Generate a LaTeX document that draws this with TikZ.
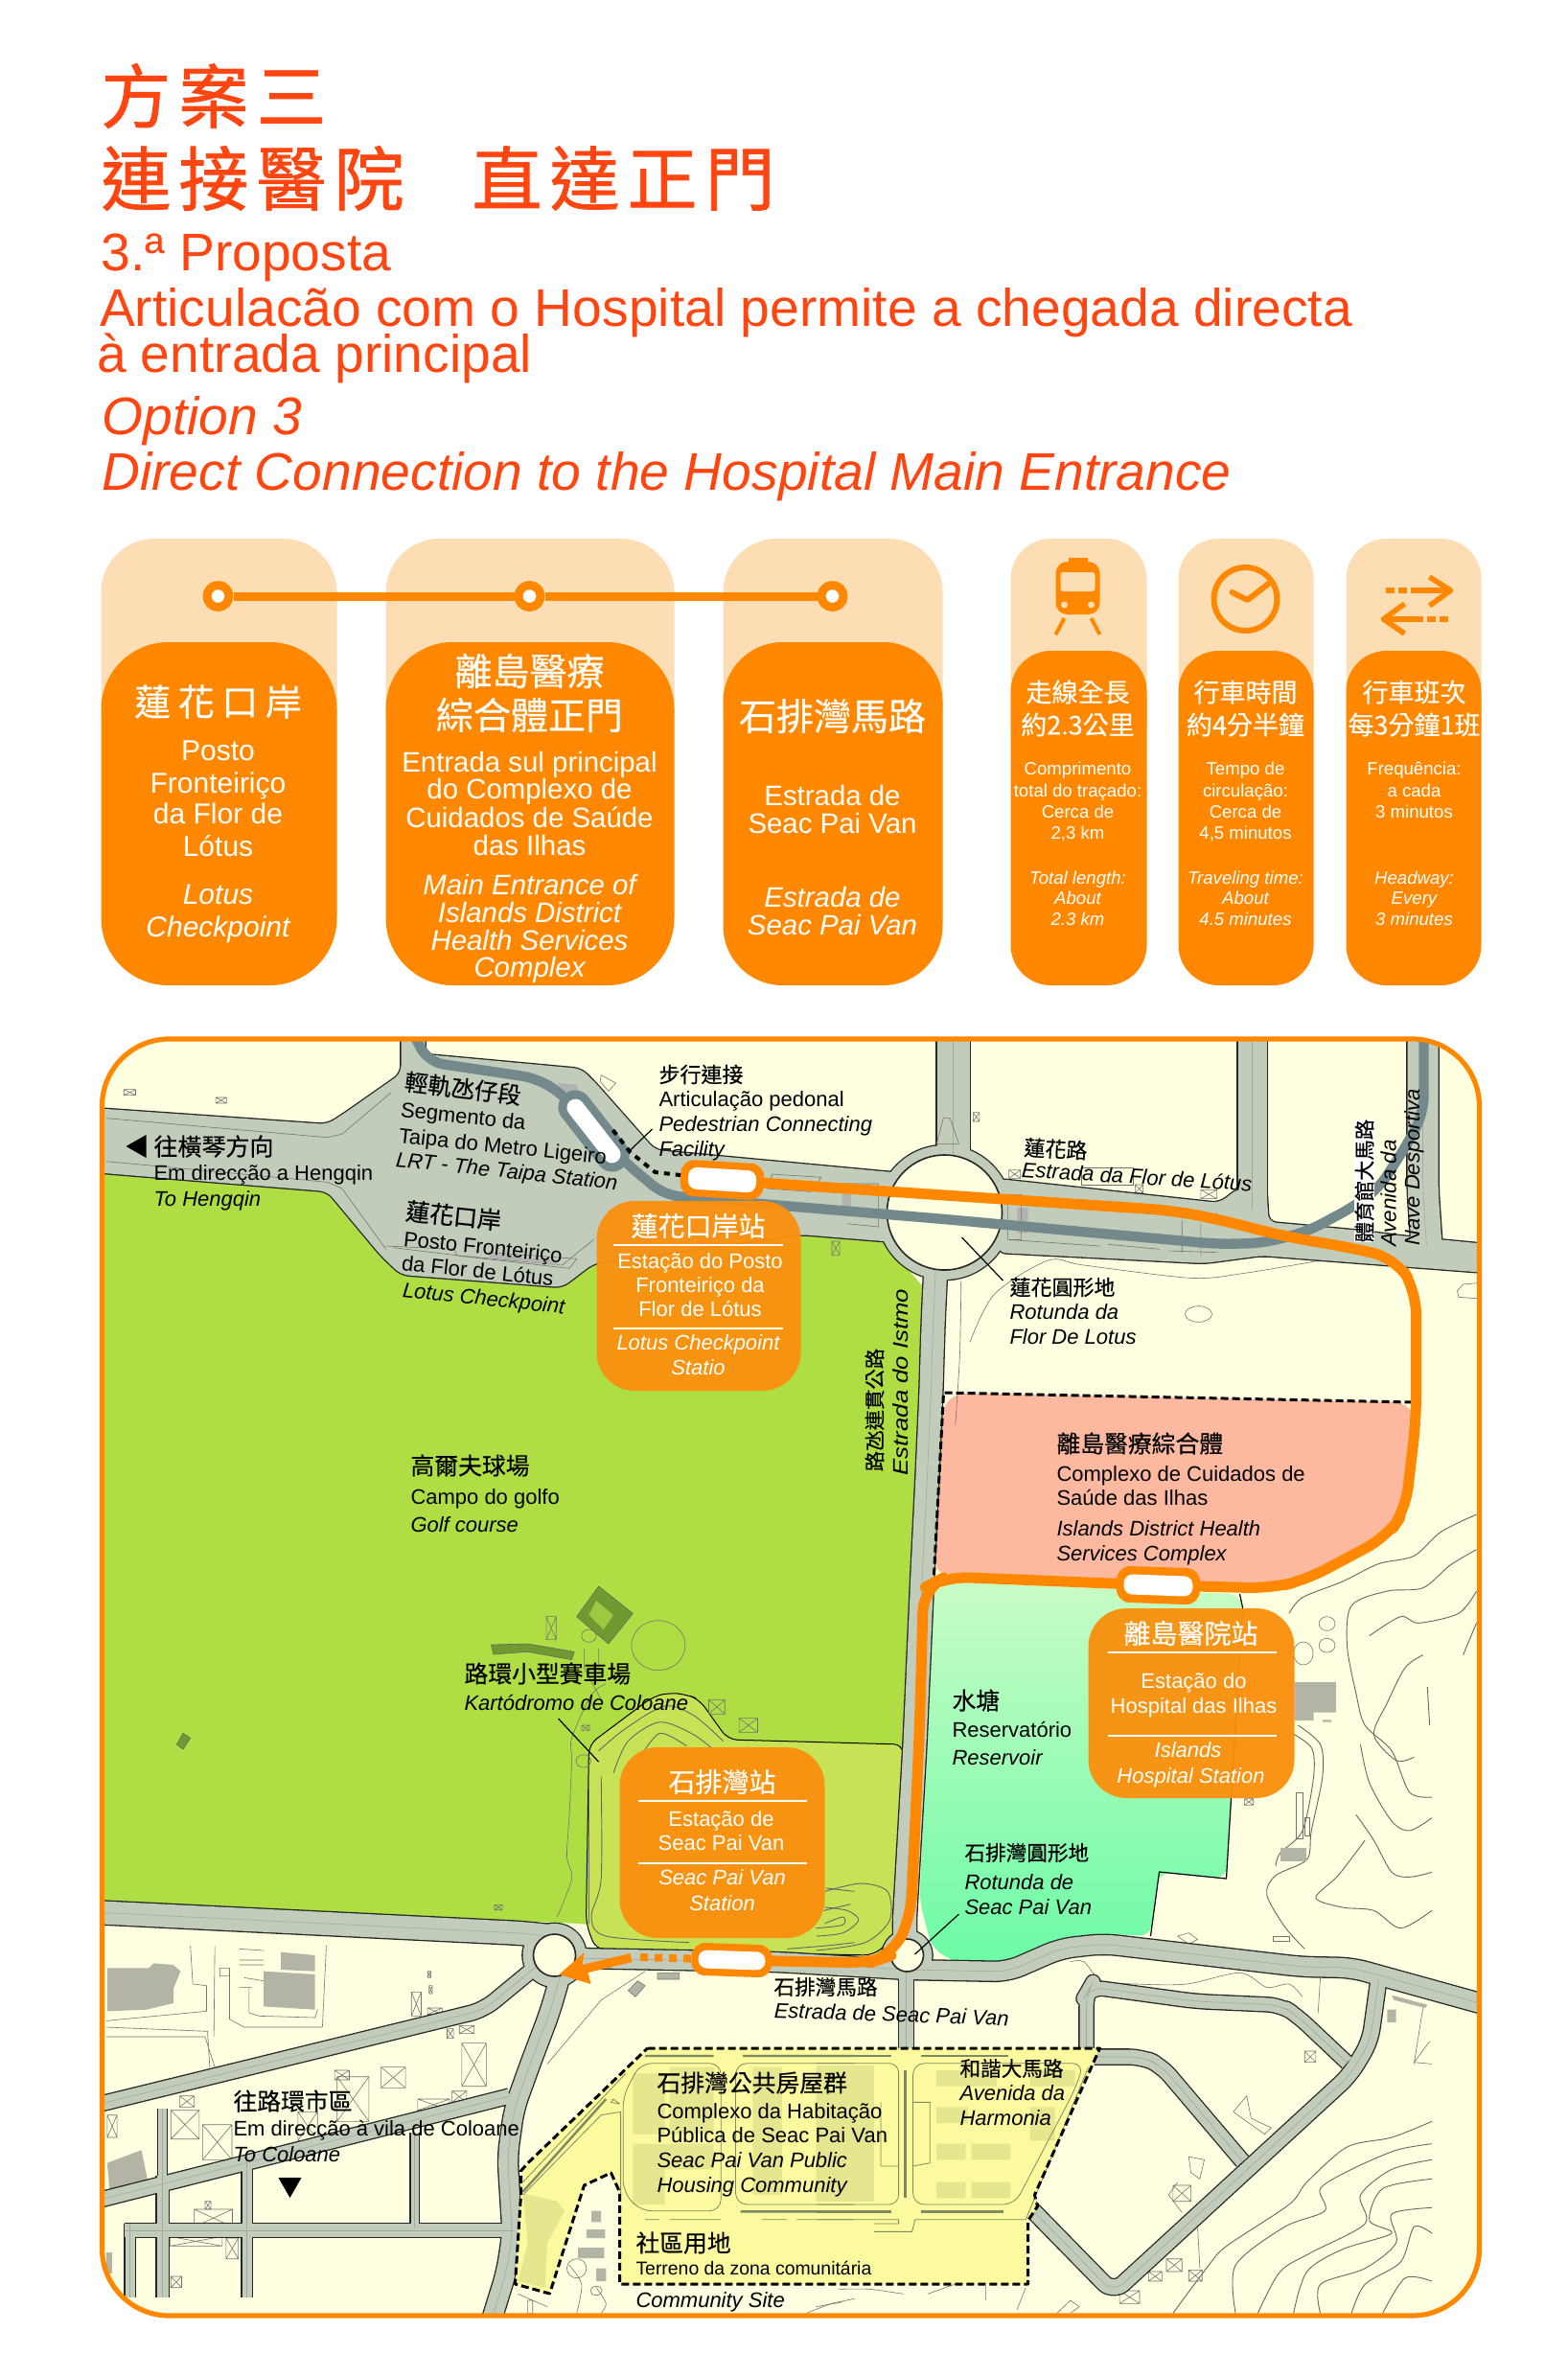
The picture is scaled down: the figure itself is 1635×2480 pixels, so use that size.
\documentclass[tikz,border=0pt]{standalone}
\usepackage{fontspec}
\setmainfont{Liberation Sans}
\newfontfamily\cjk[FakeBold=0.35]{Noto Sans CJK TC}
\newfontfamily\cjkt[FakeBold=1.1,LetterSpace=11]{Noto Sans CJK TC}
\definecolor{redt}{HTML}{FF4510}
\definecolor{org}{HTML}{FF8800}
\definecolor{peach}{HTML}{FCDDB4}
\definecolor{boxo}{HTML}{F9900F}
\definecolor{cream}{HTML}{FEFEE0}
\definecolor{golf}{HTML}{AEDD44}
\definecolor{kart}{HTML}{C7E254}
\definecolor{roadg}{HTML}{C2CCBA}
\definecolor{viad}{HTML}{74898C}
\definecolor{hosp}{HTML}{FDB9A0}
\definecolor{house}{HTML}{FBFA9E}
\definecolor{resa}{HTML}{C8FCC4}
\definecolor{resb}{HTML}{6CFBA6}
\definecolor{hatch}{HTML}{B4B4A6}
\definecolor{hatchy}{HTML}{E4E690}
\definecolor{hline}{HTML}{7E8A60}
\definecolor{oliv}{HTML}{6F9A32}
\newcounter{nn}
\tikzset{
 txt/.style={anchor=base west,inner sep=0pt,outer sep=0pt,align=left},
 z3/.style={shift={(90,1080)},x=0.2551pt,y=-0.16667pt},
 z4/.style={shift={(850,1080)},x=0.23277pt,y=-0.16667pt},
 z5/.style={shift={(90,1560)},x=0.2551pt,y=-0.16667pt},
 z6/.style={shift={(850,1560)},x=0.23277pt,y=-0.16667pt},
 z7/.style={shift={(90,2030)},x=0.2551pt,y=-0.16667pt},
 z8/.style={shift={(850,2030)},x=0.23277pt,y=-0.16667pt},
 thn/.style={draw=black!55,line width=.3pt},
 cont/.style={draw=black!60,line width=.45pt},
 stn/.style={circle,draw=org,fill=white,line width=4.5pt,minimum size=11.5pt,inner sep=0pt},
 route/.style={draw=org,line width=5.5pt,rounded corners=12pt},
 via/.style={draw=viad,line width=5.2pt,rounded corners=8pt},
 dsh/.style={draw=black,line width=1.5pt,dash pattern=on 4pt off 2pt},
 pillout/.style={fill=org,rounded corners=7pt,inner sep=0pt},
 pillin/.style={fill=white,rounded corners=4.5pt,inner sep=0pt},
 lead/.style={draw=black,line width=.6pt},
 whl/.style={draw=white,line width=.6pt},
 sbox/.style={fill=boxo,fill opacity=.96,rounded corners=20pt},
}
% text helpers: [opts]{x}{y}{pt}{text}
\newcommand\tx[5][]{\stepcounter{nn}\node[txt,#1] (t\arabic{nn}) at (#2,#3) {\fontsize{#4}{#4}\selectfont #5};}
\newcommand\ct[5][]{\stepcounter{nn}\node[inner sep=0pt,outer sep=0pt,anchor=west,#1] (t\arabic{nn}) at (#2,#3) {\fontsize{#4}{#4}\selectfont\cjk #5};}
\newcommand\ttl[4]{\stepcounter{nn}\node[inner sep=0pt,outer sep=0pt,anchor=west,text=redt] (t\arabic{nn}) at (#1,#2) {\fontsize{#3}{#3}\selectfont\cjkt #4};}
\newcommand\wt[4]{\tx[anchor=base,text=white]{#1}{#2}{#3}{#4}}
\newcommand\wi[4]{\tx[anchor=base,text=white]{#1}{#2}{#3}{\itshape #4}}
\newcommand\wc[4]{\ct[anchor=center,text=white]{#1}{#2}{#3}{#4}}
\newcommand\xb[4]{\draw[thn] (#1,#2) rectangle (#3,#4) (#1,#2)--(#3,#4) (#1,#4)--(#3,#2);}
\newcommand\roadnet{%
 \rff{(95,1156)--(340,1173)--(360,1160)--(417,1120)--(417,1070)--(442,1070)--(442,1100)--(605,1115)--(620,1130)--(682,1200)--(929,1223)--(985,1225)--(985,1300)--(920,1295)--(834,1288)--(618,1318)--(585,1343)--(417,1330)--(396,1310)--(340,1243)--(95,1223)--cycle}%
 \rff{(1040,1230)--(1271,1255)--(1290,1240)--(1320,1240)--(1322,1275)--(1409,1283)--(1467,1290)--(1550,1298)--(1550,1328)--(1315,1310)--(1255,1318)--(1040,1307)--cycle}%
 \rff{(984,1265) circle[radius=70]}%
 \rdd{34}{(993,1075)--(993,1215)}%
 \rdd{30}{(1305,1075)--(1305,1262)}%
 \rdd{32}{(1483,1075)--(1483,1240)--(1487,1300)}%
 \rdd{24}{(975,1320) .. controls (972,1380) .. (970,1450) .. controls (966,1540) .. (961,1640) -- (953,1820) -- (942,2010) -- (944,2040)}%
 \rdd{24}{(95,1995)--(544,2017)--(590,2022)}%
 \rff{(577,2040) circle[radius=33]}%
 \rdd{20}{(600,2043)--(810,2047)--(945,2055)}%
 \rff{(945,2040) circle[radius=26]}%
 \rdd{20}{(945,2055)--(1050,2057)--(1105,2033)--(1150,2028)--(1357,2052)--(1409,2053)--(1550,2092)}%
 \rdd{15}{(944,2055)--(944,2145)}%
 \rdd{16}{(1437,2065)--(1428,2130)--(1407,2165)--(1160,2392)--(1070,2300)}%
 \rdd{15}{(1140,2146)--(1190,2146)--(1210,2155)--(1295,2255)}%
 \rdd{14}{(1404,2152)--(1352,2103)--(1335,2092)--(1246,2088)--(1136,2073)--(1132,2080)--(1132,2145)}%
 \rdd{20}{(583,2062)--(572,2100)--(553,2150)--(535,2200)--(528,2250)--(533,2330)--(527,2370)--(510,2425)}%
 \rdd{15}{(95,2197)--(503,2097)--(560,2050)}%
 \rdd{15}{(95,2297)--(530,2187)}%
 \rdd{12}{(168,2270)--(168,2397)}%
 \rdd{10}{(256,2250)--(256,2397)}%
 \rdd{10}{(134,2320)--(134,2397)}%
 \rdd{14}{(128,2327)--(535,2327)}%
 \rdd{8}{(431,2225)--(431,2325)}%
 \rdd{9}{(168,2200)--(168,2280)}%
}
\begin{document}
\begin{tikzpicture}[x=0.5pt,y=-0.5pt,line join=round]
\useasboundingbox (-1.5,0) rectangle (1633.5,2480);
\fill[white] (-1.5,0) rectangle (1633.5,2480);
% ---------- title
\ttl{104}{100}{36.5}{方案三}
\ttl{104}{186}{36.5}{連接醫院}
\ttl{491}{186}{36.5}{直達正門}
\tx[text=redt]{104}{282}{27.6}{3.ª Proposta}
\tx[text=redt]{102.5}{340}{27.6}{Articulacão com o Hospital permite a chegada directa}
\tx[text=redt]{99.5}{388}{27.6}{à entrada principal}
\tx[text=redt]{105}{453}{27.6}{\itshape Option 3}
\tx[text=redt]{105}{511}{27.6}{\itshape Direct Connection to the Hospital Main Entrance}
% ---------- panels
\fill[peach,rounded corners=28pt] (104,562) rectangle (350,800);
\fill[peach,rounded corners=28pt] (401,562) rectangle (702,800);
\fill[peach,rounded corners=28pt] (753,562) rectangle (982,800);
\fill[peach,rounded corners=21pt] (1053,562) rectangle (1195,800);
\fill[peach,rounded corners=21pt] (1228,562) rectangle (1369,800);
\fill[peach,rounded corners=21pt] (1403,562) rectangle (1544,800);
\fill[org,rounded corners=35pt] (104,670) rectangle (350,1028);
\fill[org,rounded corners=35pt] (401,670) rectangle (702,1028);
\fill[org,rounded corners=31pt] (753,670) rectangle (982,1028);
\fill[org,rounded corners=21pt] (1053,679) rectangle (1195,1028);
\fill[org,rounded corners=21pt] (1228,679) rectangle (1369,1028);
\fill[org,rounded corners=21pt] (1403,679) rectangle (1544,1028);
\node[stn] (s1) at (226,622) {};
\node[stn] (s2) at (551,622) {};
\node[stn] (s3) at (867,622) {};
\draw[org,line width=4.5pt] (s1)--(s2)--(s3);
% train icon
\fill[org,rounded corners=6pt] (1100,586) rectangle (1146,641);
\fill[org] (1113,582) rectangle (1133,590);
\fill[peach,rounded corners=1.5pt] (1105,597) rectangle (1141,617);
\fill[peach] (1109,631) circle[radius=3.5] (1137,631) circle[radius=3.5];
\draw[org,line width=2pt] (1109,645)--(1100,662) (1137,645)--(1146,662);
% clock icon
\coordinate (ck) at (1298,625);
\draw[org,line width=3pt] (ck) circle[radius=33];
\draw[org,line width=3pt,line cap=round] (1284,618)--(1300,626)--(1322,609);
% arrows icon
\draw[org,line width=2.6pt] (1444,616) -- ++(9,0) (1457,616) -- ++(9,0) (1470,616) -- (1511,616);
\draw[org,line width=2.8pt] (1490,602)--(1512,616)--(1490,632);
\draw[org,line width=2.6pt] (1509,646) -- ++(-9,0) (1496,646) -- ++(-9,0) (1483,646) -- (1443,646);
\draw[org,line width=2.8pt] (1464,630)--(1442,646)--(1464,661);
% panel 1
\ct[anchor=center,text=white]{226}{732}{19}{\addfontfeature{LetterSpace=20}蓮花口岸}
\wt{226}{793}{15}{Posto}\wt{226}{827}{15}{Fronteiriço}\wt{226}{859}{15}{da Flor de}\wt{226}{893}{15}{Lótus}
\wi{226}{943}{15}{Lotus}\wi{226}{977}{15}{Checkpoint}
% panel 2
\wc{551}{700}{19.5}{離島醫療}\wc{551}{746}{19.5}{綜合體正門}
\wt{551}{805}{14.7}{Entrada sul principal}\wt{551}{833}{14.7}{do Complexo de}\wt{551}{863}{14.7}{Cuidados de Saúde}\wt{551}{892}{14.7}{das Ilhas}
\wi{551}{933}{14.7}{Main Entrance of}\wi{551}{962}{14.7}{Islands District}\wi{551}{991}{14.7}{Health Services}\wi{551}{1019}{14.7}{Complex}
% panel 3
\wc{867}{747}{19.5}{石排灣馬路}
\wt{867}{840}{14.7}{Estrada de}\wt{867}{869}{14.7}{Seac Pai Van}
\wi{867}{946}{14.7}{Estrada de}\wi{867}{975}{14.7}{Seac Pai Van}
% panel 4
\wc{1123}{722}{13.5}{走線全長}\wc{1123}{756}{13.5}{約2.3公里}
\wt{1123}{808}{9.3}{Comprimento}\wt{1123}{831}{9.3}{total do traçado:}\wt{1123}{853}{9.3}{Cerca de}\wt{1123}{875}{9.3}{2,3 km}
\wi{1123}{922}{9.3}{Total length:}\wi{1123}{943}{9.3}{About}\wi{1123}{965}{9.3}{2.3 km}
% panel 5
\wc{1298}{722}{13.5}{行車時間}\wc{1298}{756}{13.5}{約4分半鐘}
\wt{1298}{808}{9.3}{Tempo de}\wt{1298}{831}{9.3}{circulação:}\wt{1298}{853}{9.3}{Cerca de}\wt{1298}{875}{9.3}{4,5 minutos}
\wi{1298}{922}{9.3}{Traveling time:}\wi{1298}{943}{9.3}{About}\wi{1298}{965}{9.3}{4.5 minutes}
% panel 6
\wc{1474}{722}{13.5}{行車班次}\wc{1474}{756}{13.5}{每3分鐘1班}
\wt{1474}{808}{9.3}{Frequência:}\wt{1474}{831}{9.3}{a cada}\wt{1474}{853}{9.3}{3 minutos}
\wi{1474}{922}{9.3}{Headway:}\wi{1474}{943}{9.3}{Every}\wi{1474}{965}{9.3}{3 minutes}
% ---------- map
\begin{scope}
\clip[rounded corners=35pt] (105,1084) rectangle (1542,2416);
\fill[cream] (105,1084) rectangle (1542,2416);
% golf
\fill[golf] (95,1223)--(340,1243)--(396,1310)--(417,1330)--(585,1343)--(618,1318)--(834,1288)--(920,1295)--(962,1343)--(941,1820)--(925,2040)--(603,2007)--(95,1983)--cycle;
% kart
\filldraw[fill=kart,draw=black,line width=.5pt,rounded corners=5pt] (610,2007)--(613,1820)--(680,1770)--(697,1766)--(715,1768)--(728,1773)--(758,1815)--(941,1820)--(936,2017)--(910,2040)--(620,2034)--cycle;
% reservoir
\shade[top color=resa,bottom color=resb,rounded corners=6pt] (972,1650)--(1292,1663)--(1295,1677)--(1278,1960)--(1208,1953)--(1199,2020)--(1157,2018)--(1101,2027)--(1055,2052)--(1004,2052)--(971,2033)--(958,1983)--cycle;
\draw[black,line width=.6pt] (1292,1663)--(1295,1677)--(1278,1960)--(1208,1953)--(1199,2020);
% hospital
\fill[hosp,rounded corners=12pt] (983,1453)--(1476,1463)--(1476,1480)--(1465,1575)--(1446,1603)--(1362,1648)--(1325,1657)--(1207,1654)--(985,1645)--(973,1650)--cycle;
% hill contours
\begin{scope}[z6]
\draw[cont] plot[smooth] coordinates {(1480,60)(1400,115)(1340,190)(1260,215)(1180,270)(1090,320)(1060,370)};
\draw[cont] plot[smooth] coordinates {(1480,170)(1420,220)(1360,290)(1280,300)(1200,345)(1190,470)(1210,620)(1230,720)(1290,800)(1330,930)(1380,945)};
\draw[cont] plot[smooth] coordinates {(1480,300)(1440,370)(1350,400)(1310,380)(1240,440)};
\draw[cont] plot[smooth] coordinates {(1480,400)(1450,500)};
\draw[cont] plot[smooth] coordinates {(1360,500)(1320,540)(1280,650)(1250,750)(1300,830)(1340,820)};
\draw[cont] plot[smooth] coordinates {(1380,1010)(1330,1050)(1290,1020)(1240,900)(1220,780)};
\draw[cont] plot[smooth] coordinates {(1380,1180)(1330,1195)(1290,1180)(1250,1080)(1210,1000)};
\draw[cont] plot[smooth] coordinates {(1380,1300)(1310,1355)(1250,1300)(1180,1290)(1120,1260)(1170,1190)(1230,1080)};
\draw[cont] plot[smooth] coordinates {(1370,600)(1375,720)};
\draw[cont] plot[smooth] coordinates {(1080,720)(1130,780)(1135,880)(1110,1050)(1100,1140)(1030,1190)(1010,1250)(1050,1350)(1095,1420)};
\draw[cont] plot[smooth] coordinates {(1060,740)(1110,790)(1115,880)(1090,1050)(1040,1120)(1030,1160)};
\draw[thn] (1145,402) circle[x radius=18,y radius=22] (1145,470) circle[x radius=18,y radius=22] (1092,495) circle[x radius=22,y radius=36];
\fill[hatch] (1072,585) rectangle (1165,680) (1072,680) rectangle (1115,705) (1135,703) rectangle (1155,710);
\fill[hatch] (1040,1105) rectangle (1098,1145);
\draw[thn] (1075,930) rectangle (1090,1075) (1095,1010) rectangle (1105,1065);
\xb{960}{950}{980}{970}
\draw[thn] (810,1380)--(835,1370)--(855,1390)--(835,1405)--cycle;
\draw[thn] (1025,1380) rectangle (1060,1395);
\end{scope}
\begin{scope}[z4]
\draw[thn] plot[smooth] coordinates {(345,960)(400,810)(520,705)(600,720)(840,760)(960,745)(1130,705)};
\draw[thn] plot[smooth] coordinates {(325,770)(322,1000)(312,1220)};
\draw[thn] (857,873) ellipse[x radius=30,y radius=25];
\draw[thn] (1490,775)--(1450,780)--(1437,800)--(1440,820)--(1490,825);
\xb{352}{242}{366}{270}\xb{432}{422}{458}{448}\xb{862}{484}{898}{512}\xb{715}{468}{733}{494}
\draw[thn] (595,415) rectangle (710,470);
\end{scope}
\begin{scope}[z3]
\xb{1522}{645}{1538}{688}
\xb{74}{170}{98}{188}\xb{262}{195}{284}{213}
\draw[thn] (1050,125)--(1080,150)--(1065,175)--(1048,145)--cycle;
\end{scope}
\begin{scope}[z5]
\draw[draw=black!60,line width=.3pt,fill=oliv] (1045,285)--(1115,370)--(1065,465)--(1000,380)--cycle;
\fill[golf!70!oliv] (1040,330)--(1075,375)--(1055,420)--(1025,375)--cycle;
\draw[thn] (1167,470) ellipse[x radius=55,y radius=78];
\xb{938}{380}{958}{452}\xb{1270}{640}{1303}{685}\xb{1332}{698}{1370}{742}\xb{1010}{720}{1026}{736}\xb{832}{1282}{848}{1298}
\draw[draw=black!60,line width=.3pt,fill=oliv] (825,468)--(900,465)--(995,490)--(990,515)--(900,490)--(830,498)--cycle;
\draw[draw=black!60,line width=.3pt,fill=oliv] (195,745)--(210,760)--(195,795)--(182,780)--cycle;
\draw[thn] (1025,440) circle[x radius=15,y radius=20];
\draw[thn] (1015,480)--(1015,540)--(1050,640) (1045,480)--(1045,530);
\draw[thn] plot[smooth] coordinates {(1060,590)(1030,625)(990,760)(990,830)(985,1000)(980,1130)(990,1200)(960,1320)};
\draw[thn] (1014,832) circle[x radius=15,y radius=20];
\draw[thn] (1025,880)--(1025,1340);
% kart track
\draw[cont] plot[smooth] coordinates {(1045,800)(1100,730)(1180,660)(1240,690)(1300,770)};
\draw[cont] plot[smooth] coordinates {(1075,870)(1105,770)(1170,710)(1240,750)(1290,810)};
\draw[cont] plot[smooth] coordinates {(1130,820)(1170,745)(1225,785)};
\draw[cont] plot[smooth] coordinates {(1050,880)(1050,1200)(1030,1320)(1060,1380)(1230,1400)};
\draw[cont] plot[smooth] coordinates {(1430,1420)(1510,1410)(1568,1400)};
\draw[cont] plot[smooth] coordinates {(1510,1230)(1568,1240)};
\draw[cont] plot[smooth] coordinates {(1505,1300)(1560,1280)};
\end{scope}
\begin{scope}[z6]
\draw[cont] plot[smooth] coordinates {(20,1240)(100,1215)(160,1240)(165,1330)(110,1400)(0,1425)};
\draw[cont] plot[smooth] coordinates {(20,1290)(70,1300)(95,1330)(60,1370)(0,1380)};
\draw[cont] plot[smooth] coordinates {(20,1340)(60,1320)(60,1345)(0,1355)};
\end{scope}
% SE hill
\begin{scope}[z8]
\draw[cont] plot[smooth] coordinates {(1380,550)(1290,600)(1190,630)(1100,740)(1060,810)(920,940)(880,1000)(800,1150)};
\draw[cont] plot[smooth] coordinates {(1380,620)(1300,640)(1200,700)(1130,760)(1140,830)(1050,880)(940,1000)(940,1150)};
\draw[cont] plot[smooth] coordinates {(1380,670)(1290,700)(1220,780)(1230,870)(1110,960)(1040,1020)(990,1150)};
\draw[cont] plot[smooth] coordinates {(1380,730)(1270,760)(1240,860)(1290,900)(1180,950)(1100,1020)(1070,1150)};
\draw[cont] plot[smooth] coordinates {(1380,820)(1290,840)(1300,930)(1230,1010)(1130,1060)(1130,1150)};
\draw[cont] plot[smooth] coordinates {(1380,900)(1340,880)(1310,990)(1230,1060)(1200,1150)};
\draw[cont] plot[smooth] coordinates {(1380,1050)(1320,1040)(1270,1150)};
\draw[thn] plot[smooth] coordinates {(570,50)(600,50)(640,110)(720,120)(830,120)(950,85)(1010,130)(1060,120)(1090,160)};
\draw[thn] (1130,100)--(1125,210) (1375,300)--(1340,365)--(1380,370) (1360,195)--(1340,370);
\draw[thn] plot[smooth] coordinates {(50,1075)(120,1075)(195,1090)};
\draw[thn] (380,1065)--(380,1110) (0,1130)--(60,1115) (250,1090)--(310,1060) (470,1070)--(450,1140);
\draw[thn] (540,1150)--(570,1110)--(590,1130)--(570,1150);
\draw[thn] (855,880)--(860,1010);
\xb{680}{1080}{725}{1120}\xb{745}{1020}{775}{1050}\xb{785}{980}{820}{1020}\xb{835}{1015}{865}{1050}
\xb{800}{750}{840}{800}\xb{1095}{330}{1120}{365}
\draw[thn] (935,520)--(965,470)--(975,540)--(1020,570)--(1005,590)--cycle;
\draw[thn] (810,740)--(790,780)--(820,835);
\draw[thn] (835,660)--(870,670)--(860,730)--(840,710)--cycle;
\fill[hatch] (1290,155)--(1370,185)--(1365,195)--(1295,170)--cycle (1280,200) rectangle (1300,240);
\end{scope}
% SW buildings
\begin{scope}[z7]
\fill[hatch] (40,70)--(125,70)--(135,55)--(175,60)--(190,80)--(175,135)--(175,180)--(120,200)--(40,205)--cycle;
\fill[hatch] (360,80)--(465,90)--(465,200)--(360,190)--cycle (395,20)--(465,30)--(465,80)--(395,75)--cycle;
\fill[hatch] (40,680)--(110,640)--(122,730)--(45,770)--cycle;
\fill[hatch] (38,960) rectangle (50,1025);
\draw[thn] (210,0)--(215,120)--(243,125)--(243,205)--(38,235) (38,255)--(245,268)--(250,390) (38,285)--(240,285)--(262,390) (260,0)--(258,285);
\draw[thn] (290,80)--(290,230)--(320,255)--(480,255)--(488,0) (270,70)--(290,70)--(290,95)--(270,95)--cycle;
\draw[thn] (330,130)--(330,210)--(350,220)--(465,225)--(470,200);
\draw[thn] (310,10)--(360,15) (310,45)--(360,45) (310,60)--(360,60) (320,100)--(360,110) (310,130)--(335,130);
\xb{662}{145}{682}{220}\xb{695}{195}{725}{215}\xb{695}{80}{702}{100}\xb{698}{125}{705}{150}
\xb{765}{305}{815}{440}\xb{735}{260}{748}{290}\xb{760}{250}{790}{275}
\xb{600}{380}{650}{445}\xb{505}{390}{535}{420}\xb{510}{410}{575}{550}
\xb{675}{480}{740}{515}\xb{745}{455}{775}{490}
\xb{170}{515}{228}{605}\xb{235}{560}{295}{670}\xb{188}{470}{218}{505}
\xb{218}{825}{296}{880}\xb{240}{800}{252}{825}
\xb{118}{880}{155}{895}\xb{155}{875}{185}{900}
\xb{168}{910}{275}{940}\xb{283}{915}{308}{980}\xb{170}{1035}{192}{1070}
\xb{40}{530}{60}{600}\xb{430}{520}{470}{610}
\draw[thn] (1140,80)--(1050,170)--(940,370);
\draw[thn,fill=hatch] (1105,140)--(1125,110)--(1140,125)--(1120,160)--cycle (1165,85) rectangle (1210,105);
\draw[thn] (880,1090)--(940,1130) (900,1110) rectangle (910,1150) (1000,1010) circle[x radius=20,y radius=30];
\draw[thn] plot[smooth] coordinates {(985,1000)(1010,1060)(1000,1150)};
\draw[thn] plot[smooth] coordinates {(1040,1070)(1060,1120)(1050,1150)};
\draw[thn] (1040,1080) circle[x radius=12,y radius=14];
\fill[hatch] (1030,830) rectangle (1050,865) (1020,888) rectangle (1058,915) (1003,945) rectangle (1056,978) (1040,1010) rectangle (1060,1050);
\draw[thn] (1470,1150)--(1520,1120)--(1568,1105);
\end{scope}
% roads
\def\rff#1{\draw[draw=black!85,line width=1.3pt,rounded corners=4pt] #1;}
\def\rdd#1#2{\draw[draw=black!85,line width=#1*0.5pt+1.3pt,rounded corners=7pt] #2;}
\roadnet
\def\rff#1{\fill[roadg,rounded corners=4pt] #1;}
\def\rdd#1#2{\draw[draw=roadg,line width=#1*0.5pt,rounded corners=7pt] #2;}
\roadnet
\def\rff#1{}
\def\rdd#1#2{\draw[draw=black!35,line width=.3pt,rounded corners=7pt] #2;}
\roadnet
% plaza detail
\begin{scope}[z3]
\draw[thn] (38,260)--(490,320)--(520,310)--(620,180) (38,395)--(490,460)--(520,480)--(610,670);
\draw[thn] (625,665)--(760,690)--(970,720)--(1035,640);
\draw[thn] (610,660)--(750,670)--(755,690)--(985,730)--(1000,700)--(820,680);
\fill[black!30] (820,695)--(960,720)--(960,705)--(825,685)--cycle;
\draw[thn] (1400,435)--(1500,445)--(1480,490)--(1390,480)--cycle;
\fill[black!30] (960,150)--(1000,155)--(1005,185)--(975,175)--cycle;
\end{scope}
\begin{scope}[z4]
\fill[black!30] (450,540) rectangle (475,620) (58,495) rectangle (78,540);
\draw[thn] (430,500) rectangle (460,640) (500,510)--(780,545) (800,545)--(900,560) (430,640)--(635,660) (655,655)--(770,670) (790,675)--(900,680);
\draw[thn] (820,580)--(820,680) (862,590)--(862,690) (60,465)--(140,465)--(140,600)--(70,590);
\draw[thn] (270,340)--(320,340)--(300,260)--(285,260)--cycle;
\end{scope}
% roundabouts
\filldraw[fill=cream,draw=black!85,line width=.8pt] (984,1265) circle[radius=60];
\filldraw[fill=cream,draw=black!85,line width=.8pt] (577,2040) circle[radius=22];
\filldraw[fill=cream,draw=black!85,line width=.8pt] (945,2040) circle[radius=17];
% housing
\coordinate (ha) at (674,2137);
\fill[house,rounded corners=2pt] (ha)--(1146,2137)--(1078,2290)--(1081,2302)--(1071,2317)--(1071,2383)--(645,2383)--(645,2287)--(636,2267)--(608,2280)--(572,2393)--(536,2383)--(542,2290)--(542,2265)--(549,2257)--cycle;
\begin{scope}[z8]
\fill[hatchy] (270,390) rectangle (405,440) (270,505) rectangle (340,555) (270,620) rectangle (335,670) (348,620) rectangle (435,670) (270,740) rectangle (335,790) (348,740) rectangle (435,790) (480,390) rectangle (580,440) (480,505) rectangle (535,610);
\fill[hatchy] (0,375) rectangle (130,800);
\draw[hline,line width=.4pt,rounded corners=5pt] (0,368)--(185,368)--(185,810)--(0,810);
\draw[hline,line width=.4pt,rounded corners=6pt] (217,368)--(600,368)--(580,450)--(445,810)--(217,810)--cycle;
\draw[hline,line width=1.2pt] (0,345)--(168,345) (235,345)--(430,345) (0,832)--(168,832) (235,832)--(420,832) (200,390)--(200,790);
\draw[hline,line width=.4pt] (0,857)--(185,857)--(185,870)--(130,870) (130,895)--(215,895)--(222,857)--(470,857)--(610,380);
\draw[hline,line width=.4pt] (145,490)--(145,690)--(185,690) (217,690)--(255,680)--(255,490)--(217,490);
\end{scope}
\begin{scope}[z7]
\fill[hatchy] (1115,400) rectangle (1180,590) (1115,620) rectangle (1280,700) (1115,700) rectangle (1180,810) (1190,380) rectangle (1280,590) (1360,380) rectangle (1420,780) (1490,380) rectangle (1568,800);
\fill[hatchy] (890,775)--(960,800)--(975,830)--(940,930)--(935,1070)--(880,1050)--(900,930)--cycle;
\draw[hline,line width=.4pt,rounded corners=6pt] (1095,470)--(1130,368)--(1295,368)--(1295,830)--(1130,830)--(1095,770)--cycle;
\draw[hline,line width=.4pt,rounded corners=6pt] (1568,368)--(1325,368)--(1325,810)--(1568,810);
\draw[hline,line width=1.2pt] (1140,345)--(1280,345) (1340,345)--(1568,345) (1335,832)--(1568,832) (890,770)--(1060,480);
\draw[hline,line width=.4pt] (890,740)--(1100,400) (890,780)--(1050,530) (1050,530)--(1090,520)--(1090,780) (1140,857)--(1170,857) (1190,857)--(1295,857) (1378,857)--(1430,857) (1450,857)--(1568,857);
\draw[hline,line width=.4pt] (1070,490)--(1088,495)--(1075,480)--cycle;
\end{scope}
\draw[dsh] (ha)--(1146,2137)--(1078,2290)--(1081,2302)--(1071,2317)--(1071,2383)--(645,2383)--(645,2287)--(636,2267)--(608,2280)--(572,2393)--(536,2383)--(542,2290)--(542,2265)--(549,2257)--cycle;
\draw[dsh] (1472,1463)--(983,1453)--(973,1643);
% LRT viaduct
\coordinate (pV) at (618,1180);
\draw[via] (428,1075)--(445,1108)--(559,1125)--(587,1143)--(651,1213)--(692,1247)--(804,1257)--(984,1272)--(1269,1298)--(1316,1297)--(1362,1285)--(1409,1260)--(1437,1240)--(1469,1190)--(1484,1160)--(1484,1075);
\node[fill=viad,rounded corners=8.5pt,minimum width=49pt,minimum height=17.5pt,inner sep=0pt,rotate=-52] (vOut) at (pV) {};
\node[fill=white,rounded corners=4.5pt,minimum width=40pt,minimum height=9pt,inner sep=0pt,rotate=-52] (vIn) at (pV) {};
% pedestrian link
\coordinate (pL) at (752,1231);
\coordinate (pH) at (1207,1654);
\coordinate (pS) at (762,2045);
\coordinate (pa) at (638,1179);
\coordinate (pb) at (656,1202);
\coordinate (pc) at (682,1223);
\draw[black,line width=2pt,dash pattern=on 3pt off 3pt] (pa)--(pb)--(pc)--(pL);
% orange route
\draw[route] (pL)--(850,1238)--(1222,1263)--(1269,1272)--(1339,1290)--(1409,1302)--(1455,1313)--(1476,1347)--(1476,1480)--(1465,1575)--(1446,1603)--(1362,1648)--(1325,1657)--(pH)--(985,1645)--(962,1657)--(958,1800)--(949,2000)--(929,2040)--(906,2048)--(pS);
\node[pillout,rotate=-3.5,minimum width=43.5pt,minimum height=19pt] (pL1) at (pL) {};
\node[pillin,rotate=-3.5,minimum width=35.5pt,minimum height=11.5pt] (pL2) at (pL) {};
\node[pillout,rotate=-2,minimum width=43.5pt,minimum height=19pt] (pH1) at (pH) {};
\node[pillin,rotate=-2,minimum width=36pt,minimum height=10.5pt] (pH2) at (pH) {};
\node[pillout,rotate=-2,minimum width=42pt,minimum height=17pt] (pS1) at (pS) {};
\node[pillin,rotate=-2,minimum width=35pt,minimum height=9.5pt] (pS2) at (pS) {};
% direction arrow
\coordinate (aE) at (656,2042);
\coordinate (aT) at (582,2060);
\draw[org,line width=4pt,dash pattern=on 4pt off 3.5pt] (pS1.west)--(664,2042);
\fill[org] (aE)++(2,5)--(656,2038)--(606,2050)--(608,2037)--(aT)--(615,2070)--(612,2058)--cycle;
\end{scope}
% frame
\draw[org,line width=2.6pt,rounded corners=35pt] (105,1084) rectangle (1542,2416);
% ---------- leaders
\coordinate (l1a) at (679,1178);\coordinate (l1b) at (654,1202);\draw[lead] (l1a)--(l1b);
\coordinate (l2a) at (1002,1291);\coordinate (l2b) at (1045,1336);\draw[lead] (l2a)--(l2b);
\coordinate (l3a) at (999,1997);\coordinate (l3b) at (953,2039);\draw[lead] (l3a)--(l3b);
\coordinate (l4a) at (581,1793);\coordinate (l4b) at (623,1838);\draw[lead] (l4a)--(l4b);
% ---------- map labels
\coordinate (ta) at (130,1196);\coordinate (tb) at (151,1184);\coordinate (tc) at (151,1208);
\fill[black] (ta)--(tb)--(tc)--cycle;
\ct{159}{1196}{12.5}{往橫琴方向}
\tx{159}{1231}{11}{Em direcção a Hengqin}
\tx{159}{1258}{11}{\itshape To Hengqin}
\ct[rotate=-7]{421}{1128}{12.2}{輕軌氹仔段}
\tx[rotate=-6]{416}{1165}{11}{Segmento da}
\tx[rotate=-6]{414}{1192}{11}{Taipa do Metro Ligeiro}
\tx[rotate=-6]{411}{1217}{11}{\itshape LRT - The Taipa Station}
\ct[rotate=-6]{422}{1263}{12.5}{蓮花口岸}
\tx[rotate=-6]{419}{1300}{11}{Posto Fronteiriço}
\tx[rotate=-6]{417}{1325}{11}{da Flor de Lótus}
\tx[rotate=-6]{418}{1353}{11}{\itshape Lotus Checkpoint}
\ct{686}{1121}{11}{步行連接}
\tx{686}{1154}{11}{Articulação pedonal}
\tx{686}{1180}{11}{\itshape Pedestrian Connecting}
\tx{686}{1206}{11}{\itshape Facility}
\ct[rotate=-3]{1067}{1197}{11}{蓮花路}
\tx[rotate=-3.5]{1064}{1228}{11}{\itshape Estrada da Flor de Lótus}
\ct{1052}{1343}{11}{蓮花圓形地}
\tx{1052}{1376}{11}{\itshape Rotunda da}
\tx{1052}{1402}{11}{\itshape Flor De Lotus}
\ct[anchor=center,rotate=90]{911}{1471}{10.7}{路氹連貫公路}
\tx[anchor=center,rotate=90]{938}{1442}{11}{\addfontfeature{FakeStretch=1.17}\itshape Estrada do Istmo}
\ct[anchor=center,rotate=90,fill=white]{1422}{1232}{10.7}{體育館大馬路}
\tx[anchor=center,rotate=90]{1447}{1245}{11.2}{\itshape Avenida da}
\tx[anchor=center,rotate=90]{1474}{1218}{11}{\itshape Nave Desportiva}
\ct{1101}{1506}{12.4}{離島醫療綜合體}
\tx{1101}{1545}{11}{Complexo de Cuidados de}
\tx{1101}{1570}{11}{Saúde das Ilhas}
\tx{1101}{1602}{11}{\itshape Islands District Health}
\tx{1101}{1628}{11}{\itshape Services Complex}
\ct{992}{1774}{12.4}{水塘}
\tx{992}{1812}{11}{Reservatório}
\tx{992}{1841}{11}{\itshape Reservoir}
\ct{1005}{1933}{10.8}{石排灣圓形地}
\tx{1005}{1971}{11}{\itshape Rotunda de}
\tx{1005}{1997}{11}{\itshape Seac Pai Van}
\ct{427}{1529}{12.4}{高爾夫球場}
\tx{427}{1569}{11}{Campo do golfo}
\tx{427}{1598}{11}{\itshape Golf course}
\ct{483}{1746}{12.4}{路環小型賽車場}
\tx{483}{1784}{11}{\itshape Kartódromo de Coloane}
\ct{806}{2073}{10.8}{石排灣馬路}
\tx[rotate=-2]{806}{2105}{11}{\itshape Estrada de Seac Pai Van}
\ct{242}{2192}{12.4}{往路環市區}
\tx{242}{2228}{11}{Em direcção à vila de Coloane}
\tx{242}{2255}{11}{\itshape To Coloane}
\coordinate (tda) at (289,2272);\coordinate (tdb) at (313,2272);\coordinate (tdc) at (301,2293);
\fill[black] (tda)--(tdb)--(tdc)--cycle;
\ct{684}{2173}{12.4}{石排灣公共房屋群}
\tx{684}{2210}{11}{Complexo da Habitação}
\tx{684}{2235}{11}{Pública de Seac Pai Van}
\tx{684}{2261}{11}{\itshape Seac Pai Van Public}
\tx{684}{2287}{11}{\itshape Housing Community}
\ct{662}{2340}{12.4}{社區用地}
\tx{662}{2373}{9.7}{Terreno da zona comunitária}
\tx{662}{2407}{11}{\itshape Community Site}
\ct{1000}{2158}{10.8}{和諧大馬路}
\tx{1000}{2191}{11}{\itshape Avenida da}
\tx{1000}{2217}{11}{\itshape Harmonia}
% ---------- station boxes
\fill[sbox] (621,1253) rectangle (834,1451);
\draw[whl] (638,1299)--(815,1299) (638,1386)--(815,1386);
\wc{727}{1279}{14}{蓮花口岸站}
\wt{729}{1323}{11}{Estação do Posto}\wt{729}{1348}{11}{Fronteiriço da}\wt{729}{1373}{11}{Flor de Lótus}
\wi{727}{1408}{11}{Lotus Checkpoint}\wi{727}{1434}{11}{Statio}
\fill[sbox] (645,1823) rectangle (859,2022);
\draw[whl] (664,1879)--(840,1879) (664,1944)--(840,1944);
\wc{752}{1859}{14}{石排灣站}
\wt{751}{1905}{11}{Estação de}\wt{751}{1930}{11}{Seac Pai Van}
\wi{752}{1966}{11}{Seac Pai Van}\wi{752}{1993}{11}{Station}
\fill[sbox] (1134,1678) rectangle (1349,1876);
\draw[whl] (1154,1724)--(1330,1724) (1154,1811)--(1330,1811);
\wc{1241}{1704}{14}{離島醫院站}
\wt{1244}{1761}{11}{Estação do}\wt{1244}{1787}{11}{Hospital das Ilhas}
\wi{1238}{1833}{11}{Islands}\wi{1241}{1860}{11}{Hospital Station}
\end{tikzpicture}
\end{document}
